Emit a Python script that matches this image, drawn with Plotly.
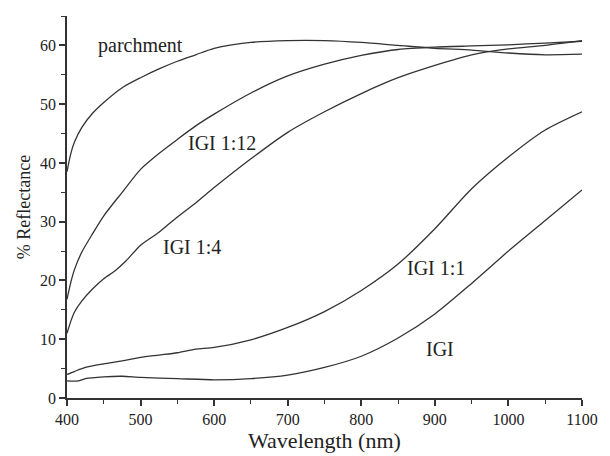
import plotly.graph_objects as go

# ---- data ----
parchment_nm = [400, 405, 410, 420, 435, 450, 475, 500, 525, 550, 575, 600, 650, 700, 750, 800, 850, 900, 950, 1000, 1050, 1100]
parchment_r = [38.5, 41.5, 43.5, 46.0, 48.5, 50.3, 52.8, 54.5, 56.0, 57.3, 58.4, 59.5, 60.5, 60.8, 60.8, 60.5, 60.0, 59.5, 59.2, 58.7, 58.4, 58.5]

igi12_nm = [400, 405, 410, 420, 435, 450, 475, 500, 525, 550, 575, 600, 650, 700, 750, 800, 850, 900, 950, 1000, 1050, 1100]
igi12_r = [16.8, 19.6, 21.8, 24.8, 28.0, 31.0, 35.0, 38.9, 41.6, 44.0, 46.3, 48.3, 51.9, 54.8, 56.8, 58.3, 59.3, 59.7, 59.9, 60.1, 60.4, 60.7]

igi4_nm = [400, 405, 410, 420, 435, 450, 465, 480, 500, 525, 550, 575, 600, 650, 700, 750, 800, 850, 900, 950, 1000, 1050, 1100]
igi4_r = [11.0, 13.0, 14.6, 16.5, 18.6, 20.3, 21.6, 23.3, 26.0, 28.2, 30.8, 33.2, 35.8, 40.7, 45.2, 48.7, 51.8, 54.5, 56.6, 58.4, 59.4, 60.0, 60.8]

igi11_nm = [400, 410, 425, 450, 475, 500, 525, 550, 575, 600, 650, 700, 750, 800, 850, 900, 950, 1000, 1050, 1100]
igi11_r = [4.0, 4.5, 5.2, 5.8, 6.3, 6.9, 7.3, 7.7, 8.3, 8.6, 9.9, 12.0, 14.7, 18.3, 22.8, 28.8, 35.6, 41.0, 45.6, 48.7]

igi_nm = [400, 415, 425, 450, 475, 500, 550, 600, 650, 700, 750, 800, 850, 900, 950, 1000, 1050, 1100]
igi_r = [2.9, 2.9, 3.3, 3.6, 3.7, 3.5, 3.3, 3.1, 3.3, 3.9, 5.2, 7.1, 10.2, 14.3, 19.5, 25.0, 30.2, 35.4]

series = [
    ("parchment", parchment_nm, parchment_r),
    ("IGI 1:12", igi12_nm, igi12_r),
    ("IGI 1:4", igi4_nm, igi4_r),
    ("IGI 1:1", igi11_nm, igi11_r),
    ("IGI", igi_nm, igi_r),
]

# label placements (data coords)
labels = {
    "parchment": (500, 60.0),
    "IGI 1:12": (611, 43.4),
    "IGI 1:4": (570, 25.7),
    "IGI 1:1": (901, 22.2),
    "IGI": (907, 8.3),
}

fig = go.Figure()
for name, xs, ys in series:
    fig.add_trace(go.Scatter(
        x=xs, y=ys, mode="lines", name=name,
        line=dict(color="#333333", width=1.3, shape="spline", smoothing=0.7),
        showlegend=False, hoverinfo="skip",
    ))

for name, (lx, ly) in labels.items():
    fig.add_annotation(x=lx, y=ly, text=name, showarrow=False,
                       font=dict(family="Liberation Serif", size=20, color="#222222"))

font_family = "Liberation Serif"
fig.update_layout(
    width=610, height=456,
    margin=dict(l=67, r=19, t=16, b=52),
    paper_bgcolor="white", plot_bgcolor="white",
    font=dict(family=font_family, color="#222222"),
    xaxis=dict(
        range=[400, 1100], tickmode="linear", tick0=400, dtick=100,
        ticks="outside", ticklen=6, tickwidth=1.5,
        tickcolor="#333333", showline=True, linecolor="#333333", linewidth=1.8,
        showgrid=False, zeroline=False, tickfont=dict(size=16, family=font_family),
        minor=dict(dtick=50, tick0=400, ticks="outside", ticklen=4, tickwidth=1.3, tickcolor="#333333", showgrid=False),
        title=dict(text="Wavelength (nm)", font=dict(size=22, family=font_family), standoff=1),
    ),
    yaxis=dict(
        range=[0, 65], tickmode="linear", tick0=0, dtick=10,
        ticks="outside", ticklen=6, tickwidth=1.5,
        tickcolor="#333333", showline=True, linecolor="#333333", linewidth=1.8,
        showgrid=False, zeroline=False, tickfont=dict(size=16, family=font_family),
        minor=dict(dtick=5, tick0=0, ticks="outside", ticklen=4, tickwidth=1.3, tickcolor="#333333", showgrid=False),
        title=dict(text="% Reflectance", font=dict(size=18, family=font_family), standoff=5),
    ),
)

fig.write_html("out.html")
